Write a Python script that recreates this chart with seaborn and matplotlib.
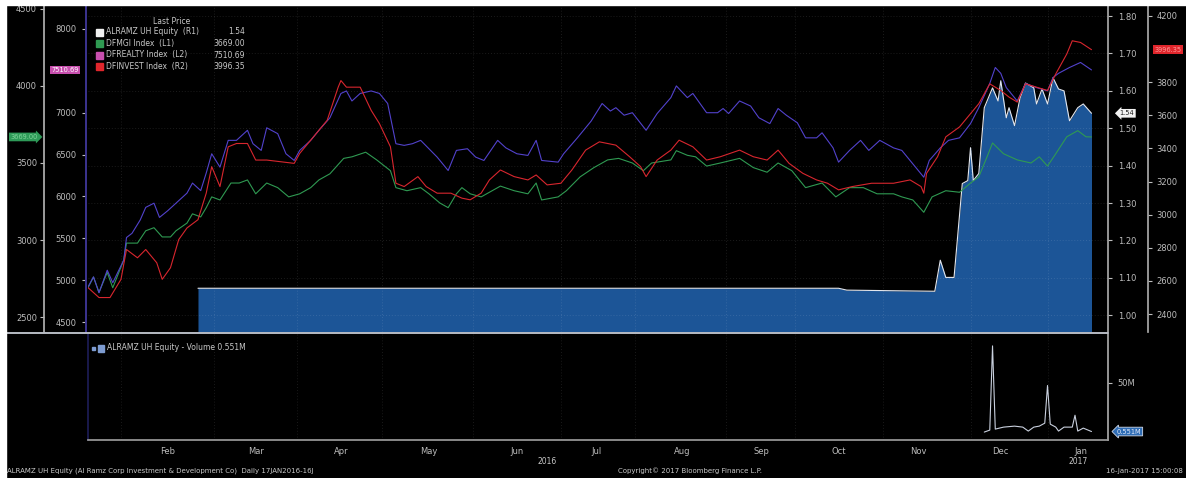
import matplotlib.pyplot as plt
import matplotlib.patches as mpatches
import matplotlib.transforms as mtransforms
from matplotlib.lines import Line2D
from matplotlib.ticker import FixedLocator, FixedFormatter
import seaborn as sns

# x = chart days counted from 17 Jan 2016 (the chart's own trading time scale)
month_grid_day = [12, 46, 76, 107, 140, 172, 199, 232, 257, 289, 321, 349]
month_label_day = [29, 61, 92, 124, 156, 185, 216, 245, 273, 302, 332, 361]
month_labels = ['Feb', 'Mar', 'Apr', 'May', 'Jun', 'Jul', 'Aug', 'Sep', 'Oct', 'Nov', 'Dec', 'Jan']
year_label_day = [167, 360]
year_labels = ['2016', '2017']

# DFREALTY Index (L2)
blue_day = [0, 2, 4, 7, 9, 13, 14, 16, 19, 21, 24, 26, 29, 32, 36, 38, 41, 43, 45, 48,
            51, 54, 58, 60, 63, 65, 69, 72, 75, 77, 81, 84, 88, 92, 94, 96, 99, 103, 106, 109,
            112, 115, 118, 121, 124, 127, 131, 134, 138, 141, 144, 149, 152, 156, 160, 163, 165, 171, 173, 178,
            183, 187, 190, 192, 195, 198, 203, 207, 212, 214, 218, 220, 225, 229, 231, 233, 237, 241, 244, 248,
            251, 254, 258, 261, 265, 267, 271, 273, 277, 281, 284, 288, 293, 296, 300, 304, 306, 310, 313, 317,
            321, 324, 328, 330, 332, 334, 338, 341, 345, 349, 351, 353, 357, 361, 365]
blue_val = [4920, 5040, 4850, 5120, 4970, 5240, 5510, 5560, 5720, 5870, 5920, 5750, 5830, 5920, 6040, 6160, 6070, 6280, 6510, 6350,
            6670, 6670, 6790, 6630, 6550, 6820, 6750, 6510, 6430, 6550, 6670, 6790, 6940, 7230, 7260, 7140, 7230, 7260, 7230, 7110,
            6630, 6610, 6630, 6670, 6570, 6470, 6310, 6550, 6570, 6470, 6430, 6670, 6580, 6510, 6490, 6670, 6430, 6410, 6510, 6700,
            6900, 7110, 7020, 7060, 6970, 7000, 6790, 6990, 7180, 7320, 7180, 7230, 7000, 7000, 7050, 6990, 7140, 7080, 6940, 6870,
            7050, 6970, 6880, 6700, 6700, 6760, 6580, 6410, 6550, 6670, 6550, 6670, 6580, 6550, 6390, 6230, 6430, 6580, 6670, 6700,
            6870, 7060, 7350, 7540, 7470, 7300, 7140, 7350, 7300, 7260, 7420, 7470, 7540, 7600, 7510.69]

# DFINVEST Index (R2)
red_day = [0, 4, 8, 12, 14, 18, 21, 25, 27, 30, 33, 36, 40, 43, 45, 48, 51, 54, 58, 61,
           65, 70, 75, 77, 82, 87, 91, 92, 94, 99, 103, 106, 110, 112, 115, 120, 123, 127, 132, 136,
           139, 143, 146, 150, 155, 160, 163, 167, 172, 176, 181, 186, 192, 197, 201, 203, 207, 212, 215, 220,
           225, 230, 237, 242, 247, 251, 255, 260, 265, 269, 273, 278, 285, 293, 299, 303, 304, 305, 309, 312,
           317, 321, 324, 328, 332, 335, 338, 341, 345, 349, 352, 356, 358, 361, 365]
red_val = [2560, 2500, 2500, 2610, 2790, 2740, 2790, 2710, 2610, 2680, 2850, 2920, 2970, 3130, 3290, 3170, 3410, 3430, 3430, 3330,
           3330, 3320, 3310, 3370, 3470, 3570, 3770, 3810, 3770, 3770, 3630, 3550, 3410, 3190, 3170, 3230, 3170, 3130, 3130, 3100,
           3090, 3130, 3210, 3270, 3230, 3210, 3240, 3180, 3190, 3270, 3390, 3440, 3420, 3350, 3290, 3230, 3330, 3390, 3450, 3410,
           3330, 3350, 3390, 3350, 3330, 3390, 3310, 3250, 3210, 3190, 3150, 3170, 3190, 3190, 3210, 3170, 3130, 3250, 3350, 3470,
           3530, 3610, 3670, 3790, 3750, 3710, 3680, 3790, 3770, 3750, 3850, 3970, 4050, 4040, 3996.35]

# DFMGI Index (L1)
green_day = [0, 2, 4, 7, 9, 13, 14, 18, 21, 24, 27, 30, 32, 36, 38, 41, 43, 45, 48, 52,
             55, 58, 61, 65, 69, 73, 77, 81, 84, 88, 93, 96, 101, 105, 110, 112, 116, 121, 124, 128,
             131, 134, 136, 139, 143, 145, 150, 155, 160, 163, 165, 171, 174, 179, 184, 189, 193, 198, 202, 205,
             212, 214, 218, 221, 225, 230, 237, 242, 247, 251, 256, 261, 267, 272, 277, 282, 287, 293, 296, 300,
             304, 307, 312, 317, 321, 324, 327, 329, 333, 338, 343, 346, 349, 352, 356, 360, 363, 365]
green_val = [2690, 2760, 2660, 2790, 2690, 2870, 2980, 2980, 3060, 3080, 3020, 3020, 3060, 3110, 3170, 3150, 3210, 3280, 3260, 3370,
             3370, 3390, 3300, 3370, 3340, 3280, 3300, 3340, 3390, 3430, 3530, 3540, 3570, 3520, 3450, 3340, 3320, 3340, 3300, 3240,
             3210, 3300, 3340, 3300, 3280, 3300, 3350, 3320, 3300, 3370, 3260, 3280, 3320, 3410, 3470, 3520, 3530, 3500, 3450, 3500,
             3520, 3580, 3550, 3540, 3480, 3500, 3530, 3470, 3440, 3500, 3450, 3340, 3370, 3280, 3340, 3340, 3300, 3300, 3280, 3260,
             3180, 3280, 3320, 3310, 3370, 3410, 3540, 3630, 3560, 3520, 3500, 3540, 3480, 3560, 3670, 3710, 3670, 3669.00]

# ALRAMZ UH Equity (R1)
ramz_day = [40, 273, 276, 308, 310, 312, 315, 318, 320, 321, 322, 324, 326, 329, 331, 332,
            334, 335, 337, 339, 341, 344, 345, 347, 349, 351, 353, 355, 357, 360, 362, 365]
ramz_val = [1.072, 1.072, 1.067, 1.064, 1.147, 1.101, 1.101, 1.352, 1.360, 1.448, 1.360, 1.379, 1.555, 1.608, 1.573, 1.627,
            1.528, 1.555, 1.507, 1.581, 1.621, 1.608, 1.565, 1.605, 1.565, 1.635, 1.605, 1.600, 1.520, 1.555, 1.565, 1.54]

# ALRAMZ UH Equity volume, millions
vol_day = [326, 328, 329, 330, 333, 337, 340, 342, 344, 346, 348, 349, 350, 352,
           353, 355, 358, 359, 360, 362, 365]
vol_val = [0, 2, 87, 3, 5, 6, 5, 1, 5, 6, 9, 47, 8, 5, 1, 5, 5, 17, 1, 4, 0.551]

sns.set_theme(style='dark', rc={'axes.facecolor': '#000000', 'figure.facecolor': '#000000',
                                'axes.edgecolor': '#a0a0a0', 'text.color': '#c8c8c8'})
plt.rcParams['font.family'] = ['DejaVu Sans']

W, H = 1186, 478
PT = 0.72  # points per pixel at 100 dpi
TXT = '#c8c8c8'
LW = 0.8
fig = plt.figure(figsize=(W / 100, H / 100), dpi=100)


def box(x0, y0, x1, y1):
    return [x0 / W, 1 - y1 / H, (x1 - x0) / W, (y1 - y0) / H]


def fx(x):
    return x / W


def fy(y):
    return 1 - y / H


ax = fig.add_axes(box(88, 6, 1108, 332))
ax_l1 = ax.twinx()
ax_l2 = ax.twinx()
ax_r2 = ax.twinx()
axv = fig.add_axes(box(88, 334, 1108, 440))

r1_lim = (0.955, 1.827)
ax.fill_between(ramz_day, ramz_val, r1_lim[0], color='#1c5597', lw=0)
sns.lineplot(x=ramz_day, y=ramz_val, ax=ax, color='#e2e6ee', lw=LW)
sns.lineplot(x=green_day, y=green_val, ax=ax_l1, color='#2f9a52', lw=LW)
sns.lineplot(x=blue_day, y=blue_val, ax=ax_l2, color='#5242cc', lw=LW)
sns.lineplot(x=red_day, y=red_val, ax=ax_r2, color='#d8262e', lw=LW)

tick_kw = dict(labelsize=6, length=3, width=0.8, direction='out', colors='#bdbdbd')
for a in (ax, ax_l1, ax_l2, ax_r2, axv):
    for s in a.spines.values():
        s.set_visible(False)
    a.set_xlim(0, 371)
    a.set_xlabel('')
    a.set_ylabel('')

for a in (ax, ax_l1, ax_l2, ax_r2):
    a.tick_params(axis='x', bottom=False, labelbottom=False, top=False, labeltop=False)

# R1: ALRAMZ price
ax.set_ylim(*r1_lim)
ax.yaxis.tick_right()
r1_ticks = [1.0, 1.1, 1.2, 1.3, 1.4, 1.5, 1.6, 1.7, 1.8]
ax.set_yticks(r1_ticks)
ax.set_yticklabels([f'{v:.2f}' for v in r1_ticks])
ax.spines['right'].set_visible(True)
ax.spines['right'].set_color('#a8a8a8')
ax.tick_params(axis='y', left=False, labelleft=False, right=True, labelright=True, pad=4, **tick_kw)
ax.set_xticks(month_grid_day)
ax.set_axisbelow('line')
ax.grid(True, axis='both', color='white', alpha=0.11, ls=(0, (1, 2)), lw=0.7)

# L1: DFMGI
ax_l1.set_ylim(2403, 4519)
ax_l1.yaxis.tick_left()
ax_l1.set_yticks([2500, 3000, 3500, 4000, 4500])
ax_l1.spines['left'].set_visible(True)
ax_l1.spines['left'].set_position(('outward', 44 * PT))
ax_l1.spines['left'].set_color('#b0b0b0')
ax_l1.tick_params(axis='y', left=True, labelleft=True, right=False, labelright=False, pad=2, **tick_kw)

# L2: DFREALTY
ax_l2.set_ylim(4382, 8274)
ax_l2.yaxis.tick_left()
ax_l2.set_yticks([4500, 5000, 5500, 6000, 6500, 7000, 8000])
ax_l2.spines['left'].set_visible(True)
ax_l2.spines['left'].set_position(('outward', 2 * PT))
ax_l2.spines['left'].set_color('#3c3490')
ax_l2.spines['left'].set_linewidth(1.4)
ax_l2.tick_params(axis='y', left=True, labelleft=True, right=False, labelright=False, pad=4, **tick_kw)

# R2: DFINVEST
ax_r2.set_ylim(2292, 4260)
ax_r2.set_yticks([2400, 2600, 2800, 3000, 3200, 3400, 3600, 3800, 4200])
ax_r2.spines['right'].set_visible(True)
ax_r2.spines['right'].set_position(('outward', 40 * PT))
ax_r2.spines['right'].set_color('#a8a8a8')
ax_r2.tick_params(axis='y', left=False, labelleft=False, right=True, labelright=True, pad=3, **tick_kw)

# volume panel
sns.lineplot(x=vol_day, y=vol_val, ax=axv, color='#c9d0de', lw=0.8)
axv.set_xlim(0, 371)
axv.set_ylim(-8, 99)
axv.set_xlabel('')
axv.set_ylabel('')
axv.yaxis.tick_right()
axv.set_yticks([50])
axv.set_yticklabels(['50M'])
axv.tick_params(axis='y', left=False, labelleft=False, right=True, labelright=True, pad=4, **tick_kw)
axv.xaxis.set_major_locator(FixedLocator(month_label_day))
axv.xaxis.set_major_formatter(FixedFormatter(month_labels))
axv.xaxis.set_minor_locator(FixedLocator(month_grid_day))
axv.tick_params(axis='x', which='major', length=0, pad=5, labelsize=6, colors='#bdbdbd')
axv.tick_params(axis='x', which='minor', length=2, width=0.7, colors='#9a9a9a')
axv.grid(True, which='minor', axis='x', color='white', alpha=0.10, ls=(0, (1, 2)), lw=0.7)
axv.spines['bottom'].set_visible(True)
axv.spines['bottom'].set_color('#9a9a9a')
axv.spines['right'].set_visible(True)
axv.spines['right'].set_color('#a8a8a8')
axv.spines['left'].set_visible(True)
axv.spines['left'].set_color('#1c1c55')

yr_tr = mtransforms.blended_transform_factory(axv.transData, fig.transFigure)
for d, lab in zip(year_label_day, year_labels):
    axv.text(d, fy(462), lab, transform=yr_tr, ha='center', va='center', fontsize=5.5, color=TXT)

# white frame strips and panel separator
fig.add_artist(mpatches.Rectangle((0, 0), fx(6), 1, transform=fig.transFigure, color='white', zorder=10))
fig.add_artist(mpatches.Rectangle((0, fy(5)), 1, 5 / H, transform=fig.transFigure, color='white', zorder=10))
fig.add_artist(Line2D([fx(6), fx(1108)], [fy(332.5), fy(332.5)], transform=fig.transFigure,
                      color='#b8bcc4', lw=1.4))

# price legend
fig.text(fx(172), fy(21), 'Last Price', ha='center', va='center', fontsize=5.5, color=TXT)
legend_rows = [('ALRAMZ UH Equity  (R1)', f'{ramz_val[-1]:.2f}', '#f0f0f0'),
               ('DFMGI Index  (L1)', f'{green_val[-1]:.2f}', '#2f9a52'),
               ('DFREALTY Index  (L2)', f'{blue_val[-1]:.2f}', '#c84fae'),
               ('DFINVEST Index  (R2)', f'{red_val[-1]:.2f}', '#e0262c')]
for i, (name, val, col) in enumerate(legend_rows):
    y = 32 + i * 11.5
    fig.add_artist(mpatches.Rectangle((fx(96), fy(y + 3.5)), 7 / W, 7 / H,
                                      transform=fig.transFigure, color=col))
    fig.text(fx(106), fy(y), name, ha='left', va='center', fontsize=5.5, color=TXT)
    fig.text(fx(245), fy(y), val, ha='right', va='center', fontsize=5.5, color=TXT)

# last value tags on the axes
tag_kw = dict(va='center', ha='center', fontsize=4.8)
fig.text(fx(65), 0, f'{blue_val[-1]:.2f}', color='white',
         transform=mtransforms.blended_transform_factory(fig.transFigure, ax_l2.transData),
         bbox=dict(boxstyle='square,pad=0.2', fc='#c84fae', ec='none'), **tag_kw).set_y(blue_val[-1])
fig.text(fx(24), 0, f'{green_val[-1]:.2f}', color='#7fd39a',
         transform=mtransforms.blended_transform_factory(fig.transFigure, ax_l1.transData),
         bbox=dict(boxstyle='rarrow,pad=0.2', fc='#2e9a58', ec='none'), **tag_kw).set_y(green_val[-1])
fig.text(fx(1127), 0, f'{ramz_val[-1]:.2f}', color='#202020',
         transform=mtransforms.blended_transform_factory(fig.transFigure, ax.transData),
         bbox=dict(boxstyle='larrow,pad=0.2', fc='#f2f2f2', ec='none'), **tag_kw).set_y(ramz_val[-1])
fig.text(fx(1168), 0, f'{red_val[-1]:.2f}', color='#ff9a9a',
         transform=mtransforms.blended_transform_factory(fig.transFigure, ax_r2.transData),
         bbox=dict(boxstyle='square,pad=0.2', fc='#e0262c', ec='none'), **tag_kw).set_y(red_val[-1])
fig.text(fx(1129), 0, f'{vol_val[-1]:.3f}M', color='#dfe8f8',
         transform=mtransforms.blended_transform_factory(fig.transFigure, axv.transData),
         bbox=dict(boxstyle='larrow,pad=0.2', fc='#2f6db5', ec='#cfd8e8', lw=0.6), **tag_kw).set_y(vol_val[-1])

# volume legend
fig.add_artist(mpatches.Rectangle((fx(92), fy(349.5)), 3 / W, 3 / H, transform=fig.transFigure, color='#7d9bd0'))
fig.add_artist(mpatches.Rectangle((fx(98), fy(351.5)), 6 / W, 7 / H, transform=fig.transFigure, color='#7d9bd0'))
fig.text(fx(107), fy(348), f'ALRAMZ UH Equity - Volume {vol_val[-1]:.3f}M', ha='left', va='center',
         fontsize=5.5, color=TXT)

# footer
fig.text(fx(7), fy(471), 'ALRAMZ UH Equity (Al Ramz Corp Investment & Development Co)  Daily 17JAN2016-16J',
         ha='left', va='center', fontsize=5, color=TXT)
fig.text(fx(690), fy(471), 'Copyright\u00a9 2017 Bloomberg Finance L.P.', ha='center', va='center',
         fontsize=5, color=TXT)
fig.text(fx(1183), fy(471), '16-Jan-2017 15:00:08', ha='right', va='center', fontsize=5, color=TXT)

fig.savefig('out.png', dpi=100, facecolor=fig.get_facecolor())
